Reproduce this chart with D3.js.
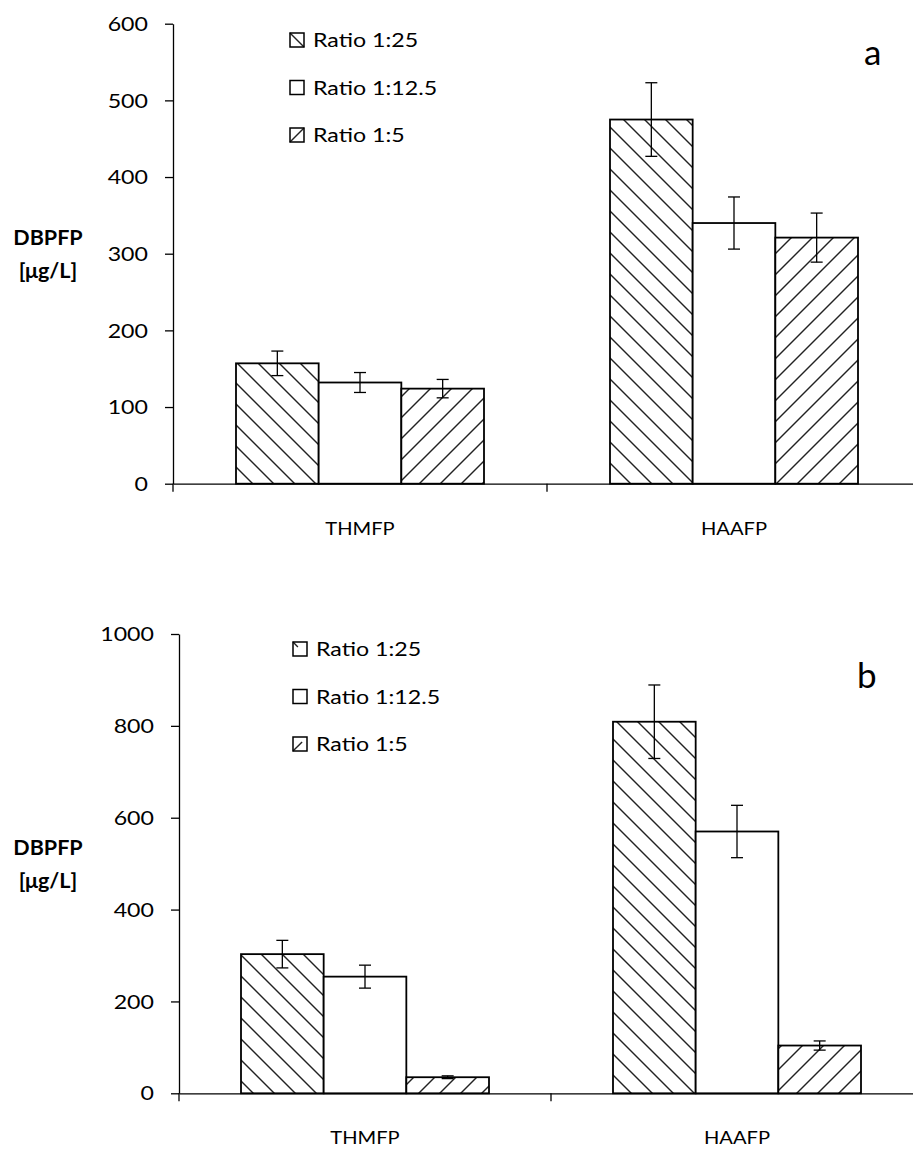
<!DOCTYPE html>
<html>
<head>
<meta charset="utf-8">
<script src="https://cdn.jsdelivr.net/npm/d3@7/dist/d3.min.js"></script>
<style>
  html, body { margin: 0; padding: 0; background: #fff; }
  svg { display: block; }
  text { font-family: Lato, "Open Sans", sans-serif; fill: #000; }
</style>
</head>
<body>
<svg id="chart" width="913" height="1149"></svg>
<script>
// Disinfection by-product formation potential, two experiments
const categories = ["THMFP", "HAAFP"];
const seriesNames = ["Ratio 1:25", "Ratio 1:12.5", "Ratio 1:5"];

// panel a
const valuesA = {
  "Ratio 1:25":   [157, 475],
  "Ratio 1:12.5": [132, 340],
  "Ratio 1:5":    [124, 321]
};
const errorsA = {
  "Ratio 1:25":   [16, 48],
  "Ratio 1:12.5": [13, 34],
  "Ratio 1:5":    [12, 32]
};
const ticksA = [0, 100, 200, 300, 400, 500, 600];

// panel b
const valuesB = {
  "Ratio 1:25":   [303, 809],
  "Ratio 1:12.5": [254, 570],
  "Ratio 1:5":    [35, 104]
};
const errorsB = {
  "Ratio 1:25":   [30, 80],
  "Ratio 1:12.5": [25, 57],
  "Ratio 1:5":    [3, 10]
};
const ticksB = [0, 200, 400, 600, 800, 1000];

const svg = d3.select("#chart");
const SX = 1.22; // horizontal stretch applied to text

const defs = svg.append("defs");
function hatch(id, dir) {
  const s = 21;
  const p = defs.append("pattern")
    .attr("id", id)
    .attr("patternUnits", "userSpaceOnUse")
    .attr("width", s).attr("height", s);
  p.append("rect").attr("width", s).attr("height", s).attr("fill", "#fff");
  const g = p.append("g").attr("stroke", "#222").attr("stroke-width", 1.4);
  if (dir === "down") {
    g.append("line").attr("x1", -2).attr("y1", -2).attr("x2", s + 2).attr("y2", s + 2);
    g.append("line").attr("x1", -2).attr("y1", s - 2).attr("x2", 2).attr("y2", s + 2);
    g.append("line").attr("x1", s - 2).attr("y1", -2).attr("x2", s + 2).attr("y2", 2);
  } else {
    g.append("line").attr("x1", -2).attr("y1", s + 2).attr("x2", s + 2).attr("y2", -2);
    g.append("line").attr("x1", -2).attr("y1", 2).attr("x2", 2).attr("y2", -2);
    g.append("line").attr("x1", s - 2).attr("y1", s + 2).attr("x2", s + 2).attr("y2", s - 2);
  }
}
hatch("hatchDown", "down");
hatch("hatchUp", "up");

const fills = {
  "Ratio 1:25": "url(#hatchDown)",
  "Ratio 1:12.5": "#fff",
  "Ratio 1:5": "url(#hatchUp)"
};

function stretchedText(g, x, y, str, opts) {
  return g.append("text")
    .attr("transform", `translate(${x},${y}) scale(${opts.sx || SX},1)`)
    .attr("text-anchor", opts.anchor || "start")
    .attr("dominant-baseline", opts.baseline || "auto")
    .style("font-size", opts.size + "px")
    .style("font-weight", opts.weight || "normal")
    .text(str);
}

function drawPanel(cfg) {
  const g = svg.append("g");
  const y = d3.scaleLinear().domain([0, cfg.max]).range([cfg.y0, cfg.yTop]);
  const x = d3.scaleBand().domain(categories)
    .range([cfg.xLeft, cfg.xLeft + cfg.catW * categories.length]);
  const xs = d3.scaleBand().domain(seriesNames)
    .range([cfg.inset, cfg.catW - cfg.inset]);

  // bars
  seriesNames.forEach(s => {
    categories.forEach((c, i) => {
      const v = cfg.values[s][i];
      const bx = x(c) + xs(s);
      g.append("rect")
        .attr("x", bx).attr("y", y(v))
        .attr("width", xs.bandwidth()).attr("height", y(0) - y(v))
        .attr("fill", fills[s])
        .attr("stroke", "#000").attr("stroke-width", 1.8);
    });
  });

  // error bars
  seriesNames.forEach(s => {
    categories.forEach((c, i) => {
      const v = cfg.values[s][i], e = cfg.errors[s][i];
      const cx = x(c) + xs(s) + xs.bandwidth() / 2;
      const eg = g.append("g").attr("stroke", "#000").attr("stroke-width", 1.3);
      eg.append("line").attr("x1", cx).attr("x2", cx).attr("y1", y(v + e)).attr("y2", y(v - e));
      [v + e, v - e].forEach(t => {
        eg.append("line").attr("x1", cx - 6).attr("x2", cx + 6).attr("y1", y(t)).attr("y2", y(t));
      });
    });
  });

  // y axis
  const ya = g.append("g").attr("transform", `translate(${cfg.xLeft},0)`)
    .call(d3.axisLeft(y).tickValues(cfg.ticks).tickSize(8).tickSizeOuter(0).tickFormat(""));
  ya.selectAll("path, line").attr("stroke", "#000").attr("stroke-width", 1.3);
  cfg.ticks.forEach(t => {
    stretchedText(g, cfg.xLeft - 25, y(t), String(t), { size: 19, anchor: "end", baseline: "central" });
  });

  // x axis
  const xa = g.append("g").attr("transform", `translate(0,${cfg.y0})`)
    .call(d3.axisBottom(x).tickSize(0).tickSizeOuter(0).tickFormat(""));
  xa.selectAll("path").attr("stroke", "#000").attr("stroke-width", 1.3);
  xa.selectAll(".tick").remove();
  const bounds = d3.range(categories.length + 1).map(i => cfg.xLeft + i * cfg.catW);
  xa.selectAll("line.bound").data(bounds).join("line").attr("class", "bound")
    .attr("x1", d => d).attr("x2", d => d).attr("y1", 0).attr("y2", 8)
    .attr("stroke", "#000").attr("stroke-width", 1.3);
  categories.forEach(c => {
    stretchedText(g, x(c) + x.bandwidth() / 2, cfg.y0 + 51, c, { size: 16.5, anchor: "middle" });
  });

  // y axis title
  const midY = (cfg.y0 + cfg.yTop) / 2;
  stretchedText(g, 48, midY - 9, "DBPFP", { size: 20.5, anchor: "middle", weight: "bold", sx: 1.05 });
  stretchedText(g, 48, midY + 24, "[μg/L]", { size: 20.5, anchor: "middle", weight: "bold", sx: 1.05 });

  // panel letter
  stretchedText(g, cfg.letterX, cfg.letterY, cfg.letter, { size: 35, anchor: "start", sx: 1 });

  // legend swatches with a single hatch stroke, as the legend keys show
  seriesNames.forEach((s, i) => {
    const ly = cfg.legendY + i * 47.5;
    const sx0 = cfg.legendX, sy0 = ly - 7, sw = 14;
    g.append("rect")
      .attr("x", sx0).attr("y", sy0).attr("width", sw).attr("height", sw)
      .attr("fill", "#fff");
    const mark = cfg.swatchMarks[i];
    if (mark) {
      g.append("line")
        .attr("x1", sx0 + mark[0] * sw).attr("y1", sy0 + mark[1] * sw)
        .attr("x2", sx0 + mark[2] * sw).attr("y2", sy0 + mark[3] * sw)
        .attr("stroke", "#222").attr("stroke-width", 1.4);
    }
    g.append("rect")
      .attr("x", sx0).attr("y", sy0).attr("width", sw).attr("height", sw)
      .attr("fill", "none").attr("stroke", "#000").attr("stroke-width", 1.5);
    stretchedText(g, cfg.legendX + 23, ly, s, { size: 19, baseline: "central" });
  });
}

drawPanel({
  values: valuesA, errors: errorsA, ticks: ticksA, max: 600,
  xLeft: 173, catW: 374, inset: 63, y0: 483.7, yTop: 23.7,
  letter: "a", letterX: 864, letterY: 65,
  legendX: 290, legendY: 40,
  swatchMarks: [[0, 0, 1, 1], null, [0, 1, 1, 0]]
});

drawPanel({
  values: valuesB, errors: errorsB, ticks: ticksB, max: 1000,
  xLeft: 179, catW: 372, inset: 62, y0: 1093.3, yTop: 634,
  letter: "b", letterX: 857, letterY: 688,
  legendX: 293, legendY: 649,
  swatchMarks: [[0, 0, 0.35, 0.35], null, [0, 1, 0.65, 0.35]]
});
</script>
</body>
</html>
